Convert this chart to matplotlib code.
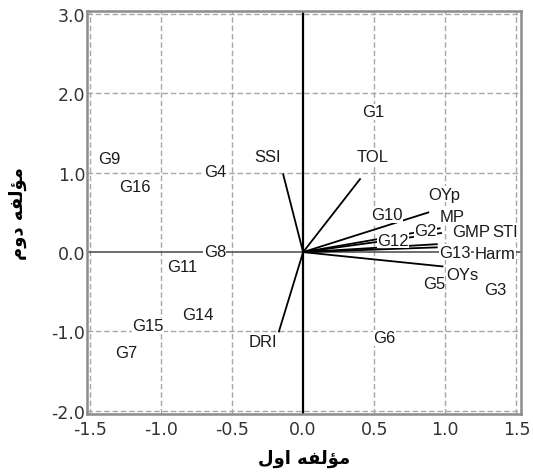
import matplotlib
matplotlib.use('Agg')
import matplotlib.pyplot as plt

# object scores (genotypes)
genotypes = ['G1', 'G2', 'G3', 'G4', 'G5', 'G6', 'G7', 'G8',
             'G9', 'G10', 'G11', 'G12', 'G13', 'G14', 'G15', 'G16']
geno_x = [0.49, 0.86, 1.35, -0.62, 0.92, 0.57, -1.24, -0.62,
          -1.36, 0.59, -0.85, 0.63, 1.07, -0.74, -1.09, -1.18]
geno_y = [1.77, 0.27, -0.47, 1.01, -0.40, -1.08, -1.27, 0.01,
          1.18, 0.47, -0.18, 0.15, 0.00, -0.78, -0.93, 0.83]

# component loadings (indices), line end and label position
indices = ['SSI', 'TOL', 'DRI', 'OYp', 'MP', 'GMP', 'STI', 'Harm', 'OYs']
load_x = [-0.14, 0.40, -0.17, 0.88, 0.96, 0.97, 0.94, 0.94, 0.98]
load_y = [0.98, 0.92, -1.00, 0.50, 0.30, 0.24, 0.10, 0.06, -0.18]
lab_x = [-0.25, 0.49, -0.28, 0.99, 1.05, 1.18, 1.42, 1.35, 1.12]
lab_y = [1.21, 1.20, -1.13, 0.73, 0.45, 0.26, 0.26, -0.02, -0.28]

xticks = [-1.5, -1.0, -0.5, 0.0, 0.5, 1.0, 1.5]
yticks = [-2.0, -1.0, 0.0, 1.0, 2.0, 3.0]

# Persian axis titles, pre-shaped (presentation forms, visual order)
xlabel_fa = '\uFEDD\uFEED\uFE8D \uFEEA\uFED4\uFEDF\uFE86\uFEE3'   # مؤلفه اول
ylabel_fa = '\uFEE1\uFEED\uFEA9 \uFEEA\uFED4\uFEDF\uFE86\uFEE3'   # مؤلفه دوم

plt.rcParams['font.family'] = ['Liberation Sans', 'DejaVu Sans']

fig = plt.figure(figsize=(5.33, 4.77), dpi=100)
ax = fig.add_axes([0.163, 0.130, 0.814, 0.845])
ax.set_xlim(-1.52, 1.53)
ax.set_ylim(-2.04, 3.04)

# dashed grid
for xv in xticks:
    if xv != 0:
        ax.axvline(xv, color='#a8a8a8', lw=1, ls=(0, (4, 2)), zorder=1)
for yv in yticks:
    if yv != 0:
        ax.axhline(yv, color='#a8a8a8', lw=1, ls=(0, (4, 2)), zorder=1)

# reference lines through origin
ax.axvline(0, color='black', lw=1.6, zorder=2)
ax.axhline(0, color='#555555', lw=1.2, zorder=2)

# loading vectors
for lx, ly in zip(load_x, load_y):
    ax.plot([0, lx], [0, ly], color='black', lw=1.3, zorder=3)

box = dict(facecolor='white', edgecolor='none', pad=0.3)
for name, x, y in zip(indices, lab_x, lab_y):
    ax.text(x, y, name, ha='center', va='center', fontsize=12,
            color='#1a1a1a', bbox=box, zorder=4)
for name, x, y in zip(genotypes, geno_x, geno_y):
    ax.text(x, y, name, ha='center', va='center', fontsize=12,
            color='#1a1a1a', bbox=box, zorder=4)

ax.set_xticks(xticks)
ax.set_yticks(yticks)
ax.set_xticklabels(['%.1f' % v for v in xticks], fontsize=12.5, color='#333333',
                   family='DejaVu Sans')
ax.set_yticklabels(['%.1f' % v for v in yticks], fontsize=12.5, color='#333333',
                   family='DejaVu Sans')
ax.tick_params(length=0, pad=1)
ax.tick_params(axis='x', pad=4)

for sp in ax.spines.values():
    sp.set_color('#8c8c8c')
    sp.set_linewidth(1.8)

ax.set_xlabel(xlabel_fa, family='DejaVu Sans', fontsize=13, fontweight='bold', labelpad=8)
ax.set_ylabel(ylabel_fa, family='DejaVu Sans', fontsize=13, fontweight='bold', labelpad=18)

fig.savefig('out.png', dpi=100)
